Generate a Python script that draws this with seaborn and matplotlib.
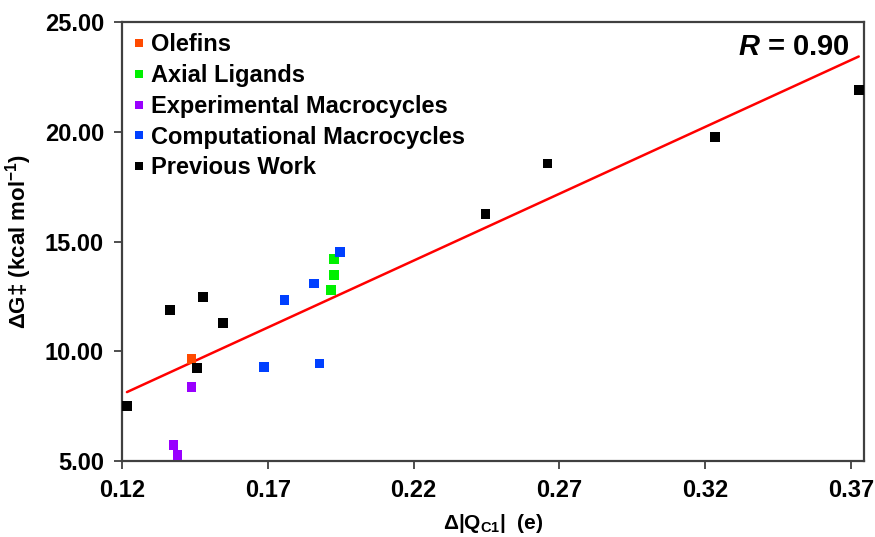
import matplotlib
matplotlib.use("Agg")
import matplotlib.pyplot as plt
import seaborn as sns
import pandas as pd
import numpy as np

# ---- data ----
olefins_x = [0.1438]
olefins_y = [9.65]
axial_x = [0.1928, 0.1928, 0.1916]
axial_y = [14.19, 13.47, 12.78]
exp_x = [0.1438, 0.1377, 0.1390]
exp_y = [8.37, 5.73, 5.27]
comp_x = [0.1688, 0.1757, 0.1858, 0.1878, 0.1947]
comp_y = [9.27, 12.33, 13.08, 9.45, 14.51]
prev_x = [0.1217, 0.1365, 0.1478, 0.1546, 0.1457, 0.2447, 0.2659, 0.3235, 0.3727]
prev_y = [7.51, 11.88, 12.47, 11.29, 9.24, 16.24, 18.56, 19.75, 21.89]

groups = ["Olefins", "Axial Ligands", "Experimental Macrocycles",
          "Computational Macrocycles", "Previous Work"]
colors = ["#FF4A00", "#00F000", "#9900FF", "#0040FF", "#000000"]
x_ticks = [0.12, 0.17, 0.22, 0.27, 0.32, 0.37]
y_ticks = [5.0, 10.0, 15.0, 20.0, 25.0]
r_text = "0.90"

xs = [olefins_x, axial_x, exp_x, comp_x, prev_x]
ys = [olefins_y, axial_y, exp_y, comp_y, prev_y]
df = pd.concat([pd.DataFrame({"x": a, "y": b, "group": g})
                for a, b, g in zip(xs, ys, groups)], ignore_index=True)

sns.set_style("white")
plt.rcParams["font.family"] = ["Liberation Sans", "DejaVu Sans"]
plt.rcParams["font.weight"] = "bold"
plt.rcParams["text.color"] = "black"
plt.rcParams["axes.labelcolor"] = "black"
plt.rcParams["xtick.color"] = "black"
plt.rcParams["ytick.color"] = "black"
plt.rcParams["mathtext.fontset"] = "custom"
plt.rcParams["mathtext.rm"] = "Liberation Sans:bold"
plt.rcParams["mathtext.it"] = "Liberation Sans:bold:italic"
plt.rcParams["mathtext.bf"] = "Liberation Sans:bold"

fig = plt.figure(figsize=(8.75, 5.37), dpi=100)
ax = fig.add_axes([0.1394, 0.1415, 0.8480, 0.8175])

sns.regplot(data=df, x="x", y="y", scatter=False, ci=None, truncate=True,
            line_kws={"color": "#FF0000", "lw": 1.8, "zorder": 2}, ax=ax)
sns.scatterplot(data=df, x="x", y="y", hue="group", hue_order=groups,
                palette=dict(zip(groups, colors)), marker="s", s=48,
                linewidth=0, zorder=3, ax=ax)

ax.set_xlim(0.12, 0.3745)
ax.set_ylim(5.0, 25.0)
ax.set_xticks(x_ticks)
ax.set_xticklabels([f"{v:.2f}" for v in x_ticks])
ax.set_yticks(y_ticks)
ax.set_yticklabels([f"{v:.2f}" for v in y_ticks])
ax.tick_params(axis="both", labelsize=17, direction="out", length=6, width=1.3,
               color="#404040", labelcolor="black", bottom=True, left=True, pad=7)
for lab in ax.get_xticklabels() + ax.get_yticklabels():
    lab.set_fontweight("bold")
for sp in ax.spines.values():
    sp.set_color("#404040")
    sp.set_linewidth(1.6)
    sp.set_visible(True)

ax.set_xlabel(r"$\Delta$|Q$_{\mathrm{C1}}$|  (e)", fontsize=15, fontweight="bold",
              labelpad=7, color="black")
ax.set_ylabel(r"$\Delta$G‡ (kcal mol$^{\mathrm{-1}}$)", fontsize=16, fontweight="bold",
              labelpad=8, color="black")

ax.text(0.981, 0.925, r"$\mathit{R}$ = " + r_text, transform=ax.transAxes,
        ha="right", va="baseline", fontsize=21, fontweight="bold", color="black")

leg = ax.legend(loc="upper left", bbox_to_anchor=(-0.015, 1.012), frameon=False,
                fontsize=17, handlelength=1.0, handletextpad=0.02,
                labelspacing=0.33, borderaxespad=0.3, markerscale=0.8)
for t in leg.get_texts():
    t.set_fontweight("bold")
    t.set_color("black")

fig.savefig("out.png", dpi=100)
